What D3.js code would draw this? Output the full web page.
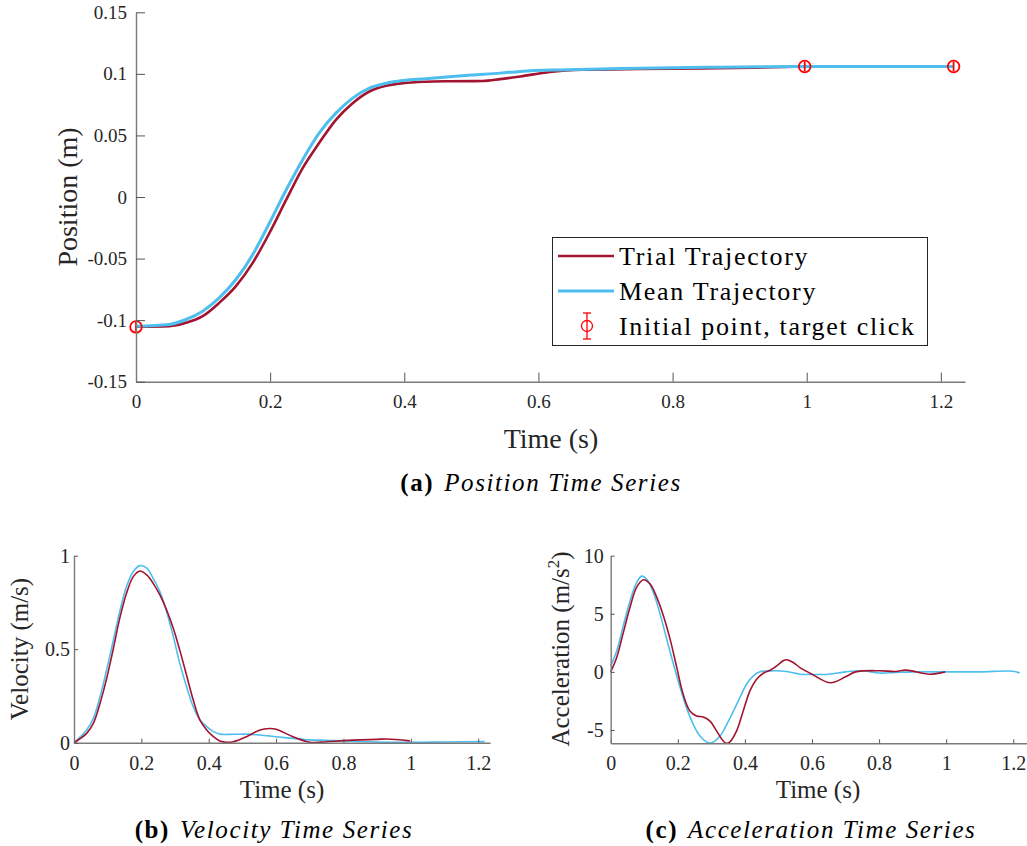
<!DOCTYPE html>
<html>
<head>
<meta charset="utf-8">
<script src="https://cdn.jsdelivr.net/npm/d3@7"></script>
<style>
  html, body { margin: 0; padding: 0; background: #fff; }
  svg { display: block; }
</style>
</head>
<body>
<svg id="fig" width="1027" height="846"></svg>
<script>
// ---------- data ----------
// (a) position of the hand along the movement axis
const trialPosT = [0, 0.0497, 0.0746, 0.0994, 0.124, 0.149, 0.174, 0.199, 0.224, 0.2485, 0.273, 0.298, 0.323, 0.348, 0.373, 0.398, 0.432, 0.467, 0.517, 0.543, 0.573, 0.617, 0.667, 0.75, 0.841, 0.92, 0.997];
const trialPos  = [-0.1054, -0.1049, -0.1022, -0.0968, -0.086, -0.0724, -0.0535, -0.0292, -0.0022, 0.0235, 0.0438, 0.0627, 0.0762, 0.0857, 0.0903, 0.0924, 0.0936, 0.094, 0.0942, 0.0957, 0.0979, 0.1015, 0.1033, 0.104, 0.1044, 0.105, 0.106];
const meanPosT  = [0, 0.0497, 0.0746, 0.0994, 0.124, 0.149, 0.174, 0.199, 0.224, 0.2485, 0.273, 0.298, 0.323, 0.348, 0.373, 0.398, 0.432, 0.5, 0.543, 0.573, 0.642, 0.75, 0.85, 0.997, 1.1, 1.219];
const meanPos   = [-0.105, -0.1035, -0.0995, -0.0927, -0.0819, -0.067, -0.0468, -0.0211, 0.0059, 0.0303, 0.0519, 0.0681, 0.0803, 0.0884, 0.0924, 0.0946, 0.096, 0.099, 0.1006, 0.102, 0.1033, 0.1045, 0.1053, 0.106, 0.106, 0.106];

// initial point and target clicks with their spread
const clickT   = [0, 0.997, 1.219];
const clickPos = [-0.1055, 0.106, 0.106];
const clickErr = [0.004, 0.004, 0.004];

// (b) velocity
const trialVelT = [0, 0.0376, 0.0574, 0.0772, 0.097, 0.117, 0.137, 0.156, 0.176, 0.196, 0.216, 0.235, 0.255, 0.275, 0.295, 0.314, 0.334, 0.354, 0.374, 0.394, 0.414, 0.433, 0.453, 0.473, 0.512, 0.552, 0.58, 0.6, 0.65, 0.7, 0.75, 0.8, 0.9, 0.93, 0.997];
const trialVel  = [0, 0.05, 0.103, 0.21, 0.344, 0.505, 0.674, 0.799, 0.888, 0.918, 0.897, 0.852, 0.79, 0.71, 0.611, 0.495, 0.362, 0.228, 0.121, 0.068, 0.032, 0.009, 0.002, 0.005, 0.032, 0.068, 0.076, 0.072, 0.032, 0.002, 0.005, 0.011, 0.018, 0.02, 0.01];
const meanVelT  = [0, 0.0376, 0.0574, 0.0772, 0.097, 0.117, 0.137, 0.156, 0.176, 0.196, 0.216, 0.235, 0.255, 0.275, 0.295, 0.314, 0.334, 0.354, 0.374, 0.394, 0.414, 0.433, 0.473, 0.512, 0.552, 0.6, 0.65, 0.7, 0.75, 0.8, 0.9, 1.0, 1.1, 1.219];
const meanVel   = [0, 0.068, 0.13, 0.246, 0.39, 0.549, 0.71, 0.835, 0.915, 0.947, 0.933, 0.879, 0.808, 0.7, 0.567, 0.424, 0.3, 0.192, 0.121, 0.086, 0.059, 0.046, 0.045, 0.046, 0.041, 0.032, 0.023, 0.015, 0.013, 0.009, 0.004, 0.002, 0.004, 0.006];

// (c) acceleration
const trialAccT = [0, 0.0179, 0.0378, 0.0576, 0.0775, 0.0974, 0.117, 0.137, 0.157, 0.177, 0.197, 0.216, 0.236, 0.256, 0.276, 0.296, 0.316, 0.336, 0.346, 0.356, 0.375, 0.395, 0.415, 0.435, 0.455, 0.475, 0.495, 0.514, 0.524, 0.544, 0.564, 0.6, 0.655, 0.7, 0.73, 0.8, 0.85, 0.88, 0.95, 0.997];
const trialAcc  = [0, 1.24, 3.4, 5.56, 7.29, 7.93, 7.58, 6.43, 4.84, 2.82, 0.37, -1.93, -3.37, -3.8, -3.89, -4.24, -5.1, -5.97, -6.15, -6.0, -5.1, -3.37, -1.64, -0.63, -0.12, 0.14, 0.52, 0.95, 1.04, 0.81, 0.37, -0.2, -0.94, -0.43, 0, 0.1, 0.03, 0.15, -0.2, 0];
const meanAccT  = [0, 0.0179, 0.0378, 0.0576, 0.0775, 0.0924, 0.107, 0.127, 0.147, 0.167, 0.187, 0.207, 0.226, 0.246, 0.266, 0.286, 0.296, 0.306, 0.326, 0.346, 0.366, 0.385, 0.405, 0.425, 0.445, 0.485, 0.524, 0.564, 0.6, 0.65, 0.7, 0.75, 0.8, 0.85, 0.9, 1.0, 1.1, 1.2, 1.219];
const meanAcc   = [0.52, 1.8, 4.0, 6.1, 7.7, 8.24, 8.0, 6.86, 4.99, 2.82, 0.66, -1.35, -3.08, -4.52, -5.53, -6.05, -6.12, -6.05, -5.53, -4.52, -3.37, -2.22, -1.07, -0.35, 0, 0.09, 0.03, -0.2, -0.23, -0.2, 0, 0.1, -0.1, -0.05, 0, 0, 0, 0.05, -0.1];

// tick values
const timeTicks = [0, 0.2, 0.4, 0.6, 0.8, 1, 1.2];
const posTicks  = [-0.15, -0.1, -0.05, 0, 0.05, 0.1, 0.15];
const velTicks  = [0, 0.5, 1];
const accTicks  = [-5, 0, 5, 10];

// legend entries
const legendLabels = ["Trial Trajectory", "Mean Trajectory", "Initial point, target click"];

// ---------- styles ----------
const trialColor = "#A2142F";
const meanColor  = "#4DBEEE";
const clickColor = "#FF0000";
const axisColor  = "#7a7a7a";
const textColor  = "#262626";
const serif      = "'Liberation Serif', 'Times New Roman', serif";

const svg = d3.select("#fig");
svg.append("rect").attr("width", 1027).attr("height", 846).attr("fill", "#fff");

const fmt = d => String(+(+d).toFixed(2));
const zip = (ts, vs) => ts.map((t, i) => [t, vs[i]]);

function drawAxes(g, x, y, xTicks, yTicks, o) {
  const ax = g.append("g")
    .attr("transform", `translate(0,${y.range()[0]})`)
    .call(d3.axisBottom(x).tickValues(xTicks).tickFormat(fmt)
      .tickSizeInner(-o.tick).tickSizeOuter(0).tickPadding(o.xPad));
  const ay = g.append("g")
    .attr("transform", `translate(${x.range()[0]},0)`)
    .call(d3.axisLeft(y).tickValues(yTicks).tickFormat(fmt)
      .tickSizeInner(-o.tick).tickSizeOuter(0).tickPadding(o.yPad));
  [ax, ay].forEach(a => {
    a.select(".domain").attr("stroke", axisColor).attr("stroke-width", 1.4);
    a.selectAll(".tick line").attr("stroke", "#555").attr("stroke-width", 1);
    a.selectAll(".tick text").attr("fill", textColor)
      .style("font-family", serif).style("font-size", o.tickSize + "px");
    a.attr("font-family", null).attr("font-size", null);
  });
}

function drawLine(g, x, y, ts, vs, color, width, curve) {
  const line = d3.line().x(d => x(d[0])).y(d => y(d[1])).curve(curve);
  g.append("path").datum(zip(ts, vs))
    .attr("fill", "none").attr("stroke", color).attr("stroke-width", width)
    .attr("stroke-linejoin", "round").attr("stroke-linecap", "butt")
    .attr("d", line);
}

function errorMarker(g, cx, cy, yLo, yHi, r, cap) {
  g.append("line").attr("x1", cx).attr("x2", cx).attr("y1", yLo).attr("y2", yHi);
  if (cap > 0) {
    g.append("line").attr("x1", cx - cap).attr("x2", cx + cap).attr("y1", yLo).attr("y2", yLo);
    g.append("line").attr("x1", cx - cap).attr("x2", cx + cap).attr("y1", yHi).attr("y2", yHi);
  }
  g.append("circle").attr("cx", cx).attr("cy", cy).attr("r", r).attr("fill", "none");
}

function caption(g, cx, cy, tag, title) {
  const t = g.append("text").attr("x", cx).attr("y", cy).attr("text-anchor", "middle")
    .attr("fill", "#000").style("font-family", serif).style("font-size", "25px")
    .style("letter-spacing", "1.6px");
  t.append("tspan").style("font-weight", "bold").text(tag);
  t.append("tspan").style("font-style", "italic").attr("dx", 10).text(title);
}

const smooth = d3.curveCatmullRom.alpha(0.5);

// ---------- (a) position ----------
{
  const x = d3.scaleLinear().domain([0, 1.236]).range([136, 965]);
  const y = d3.scaleLinear().domain([-0.15, 0.15]).range([381.7, 12.3]);
  const g = svg.append("g");
  drawLine(g, x, y, trialPosT, trialPos, trialColor, 2.6, d3.curveMonotoneX);
  drawLine(g, x, y, meanPosT, meanPos, meanColor, 3, d3.curveMonotoneX);

  const mk = g.append("g").attr("stroke", clickColor).attr("stroke-width", 1.8);
  clickT.forEach((t, i) => {
    errorMarker(mk, x(t), y(clickPos[i]), y(clickPos[i] - clickErr[i]), y(clickPos[i] + clickErr[i]), 5.8, 0);
  });

  drawAxes(g, x, y, timeTicks, posTicks, { tick: 9, xPad: 13, yPad: 9, tickSize: 19 });

  g.append("text").attr("transform", "translate(77,197) rotate(-90)")
    .attr("text-anchor", "middle").attr("fill", textColor)
    .style("font-family", serif).style("font-size", "28px").text("Position (m)");
  g.append("text").attr("x", 551).attr("y", 448).attr("text-anchor", "middle").attr("fill", textColor)
    .style("font-family", serif).style("font-size", "28px").text("Time (s)");

  // legend
  const lg = g.append("g");
  lg.append("rect").attr("x", 552.5).attr("y", 237.5).attr("width", 375).attr("height", 108)
    .attr("fill", "#fff").attr("stroke", "#262626").attr("stroke-width", 1);
  const rowY = [256, 291, 326];
  [trialColor, meanColor].forEach((c, i) => {
    lg.append("line").attr("x1", 558).attr("x2", 614).attr("y1", rowY[i]).attr("y2", rowY[i])
      .attr("stroke", c).attr("stroke-width", i === 0 ? 2.6 : 3);
  });
  const lm = lg.append("g").attr("stroke", clickColor).attr("stroke-width", 1.3);
  errorMarker(lm, 587, rowY[2], rowY[2] + 13, rowY[2] - 13, 5.5, 4);
  legendLabels.forEach((t, i) => {
    lg.append("text").attr("x", 619).attr("y", rowY[i] + 8.5).attr("fill", "#000")
      .style("font-family", serif).style("font-size", "26px").style("letter-spacing", "1.7px").text(t);
  });

  caption(g, 541, 491, "(a)", "Position Time Series");
}

// ---------- (b) velocity ----------
{
  const x = d3.scaleLinear().domain([0, 1.235]).range([74, 490]);
  const y = d3.scaleLinear().domain([0, 1]).range([742.7, 555.7]);
  const g = svg.append("g");
  drawLine(g, x, y, meanVelT, meanVel, meanColor, 1.6, smooth);
  drawLine(g, x, y, trialVelT, trialVel, trialColor, 1.6, smooth);
  drawAxes(g, x, y, timeTicks, velTicks, { tick: 4, xPad: 13, yPad: 4, tickSize: 20 });

  g.append("text").attr("transform", "translate(28,649) rotate(-90)")
    .attr("text-anchor", "middle").attr("fill", textColor)
    .style("font-family", serif).style("font-size", "25px").text("Velocity (m/s)");
  g.append("text").attr("x", 282).attr("y", 798).attr("text-anchor", "middle").attr("fill", textColor)
    .style("font-family", serif).style("font-size", "25px").text("Time (s)");

  caption(g, 274, 838, "(b)", "Velocity Time Series");
}

// ---------- (c) acceleration ----------
{
  const x = d3.scaleLinear().domain([0, 1.24]).range([610.7, 1026.7]);
  const y = d3.scaleLinear().domain([-6.15, 10]).range([743.3, 555.7]);
  const g = svg.append("g");
  drawLine(g, x, y, meanAccT, meanAcc, meanColor, 1.6, smooth);
  drawLine(g, x, y, trialAccT, trialAcc, trialColor, 1.6, smooth);
  drawAxes(g, x, y, timeTicks, accTicks, { tick: 4, xPad: 13, yPad: 7, tickSize: 20 });

  const yl = g.append("text").attr("transform", "translate(569,649) rotate(-90)")
    .attr("text-anchor", "middle").attr("fill", textColor)
    .style("font-family", serif).style("font-size", "25px");
  yl.append("tspan").text("Acceleration (m/s");
  yl.append("tspan").attr("dy", -10).style("font-size", "17px").text("2");
  yl.append("tspan").attr("dy", 10).text(")");
  g.append("text").attr("x", 818).attr("y", 798).attr("text-anchor", "middle").attr("fill", textColor)
    .style("font-family", serif).style("font-size", "25px").text("Time (s)");

  caption(g, 811, 838, "(c)", "Acceleration Time Series");
}
</script>
</body>
</html>
